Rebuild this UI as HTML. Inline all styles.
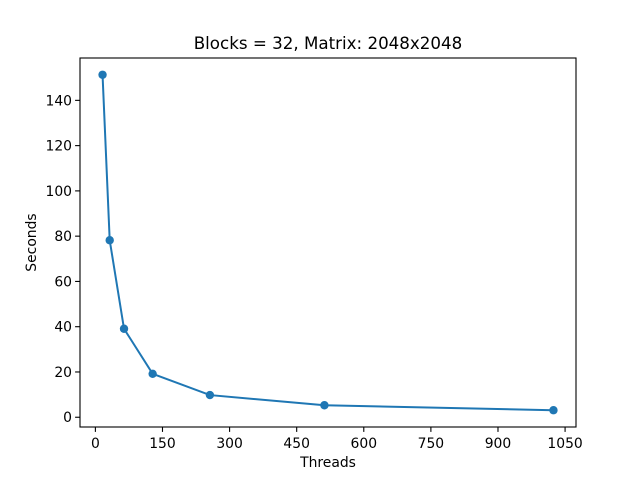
<!DOCTYPE html>
<html><head><meta charset="utf-8"><style>body{margin:0;background:#fff}svg{font-family:"DejaVu Sans","Liberation Sans",sans-serif}</style></head>
<body>
<svg id="c" width="640" height="480"></svg>
<script>
const threads=[16,32,64,128,256,512,1024];
const seconds=[151.3,78.2,39.1,19.2,9.8,5.3,3.1];
const xTicks=[0,150,300,450,600,750,900,1050];
const yTicks=[0,20,40,60,80,100,120,140];
const titleText="Blocks = 32, Matrix: 2048x2048";
const NS="http://www.w3.org/2000/svg";
const svg=document.getElementById('c');
const L=80,R=576,T=58,B=427;
const xmin=Math.min(...threads),xmax=Math.max(...threads),xm=(xmax-xmin)*0.05;
const ymin=Math.min(...seconds),ymax=Math.max(...seconds),ym=(ymax-ymin)*0.05;
const x=v=>L+(v-(xmin-xm))/((xmax+xm)-(xmin-xm))*(R-L);
const y=v=>B-(v-(ymin-ym))/((ymax+ym)-(ymin-ym))*(B-T);
function mk(t,a,txt){const e=document.createElementNS(NS,t);for(const k in a)e.setAttribute(k,a[k]);if(txt!==undefined)e.textContent=txt;svg.appendChild(e);return e;}
xTicks.forEach(t=>{const X=x(t);
const l=mk('line',{x1:X,x2:X,y1:B,y2:B+4.9,stroke:'#000','stroke-width':1.1});


const s=mk('text',{x:X,y:B+21,'font-size':13.9,'text-anchor':'middle'},t);

});
yTicks.forEach(t=>{const Y=y(t);
const l=mk('line',{x1:L-4.9,x2:L,y1:Y,y2:Y,stroke:'#000','stroke-width':1.1});


const s=mk('text',{x:L-8,y:Y+5,'font-size':13.9,'text-anchor':'end'},t);

});
const p=mk('polyline',{points:threads.map((t,i)=>x(t)+','+y(seconds[i])).join(' '),fill:'none',stroke:'#1f77b4','stroke-width':2});


threads.forEach((t,i)=>{const c=mk('circle',{cx:x(t),cy:y(seconds[i]),r:4.2,fill:'#1f77b4'});

});
const f=mk('rect',{x:L,y:T,width:R-L,height:B-T,fill:'none',stroke:'#000','stroke-width':1.1});


const ti=mk('text',{x:(L+R)/2,y:T-9,'font-size':16.7,'text-anchor':'middle'},titleText);


const xl=mk('text',{x:(L+R)/2,y:467,'font-size':13.9,'text-anchor':'middle'},'Threads');


const yl=mk('text',{x:36,y:(T+B)/2,'font-size':13.9,'text-anchor':'middle',transform:`rotate(-90 36 ${(T+B)/2})`},'Seconds');


</script>
</body></html>
